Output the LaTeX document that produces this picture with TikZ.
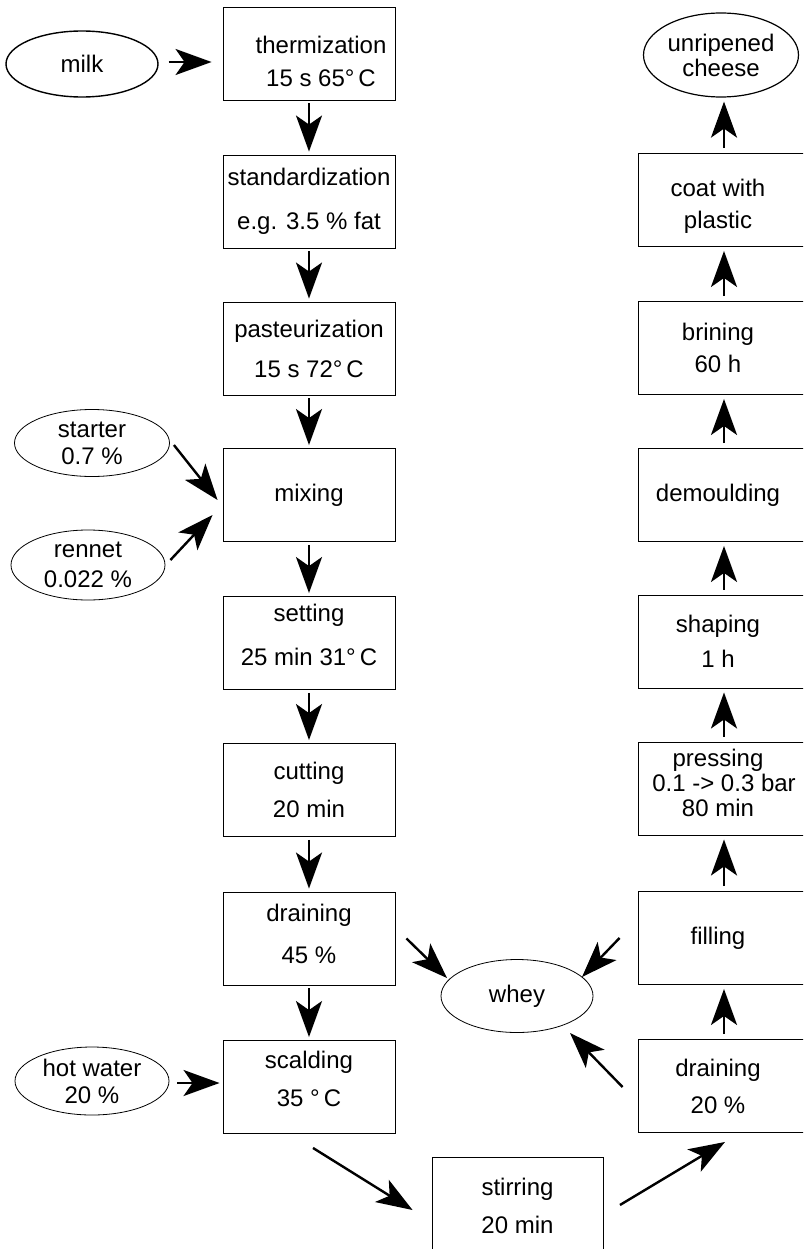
\documentclass[tikz,border=0pt]{standalone}
\usepackage{fontspec}
\setmainfont{Liberation Sans}
\usetikzlibrary{arrows.meta,shapes.geometric}
\newcommand{\padtop}[1]{\rule{0pt}{#1}}
\newcommand{\padbot}[1]{\rule[-#1]{0pt}{#1}}
\begin{document}
\begin{tikzpicture}[x=1pt,y=-1pt,
  every node/.style={font=\fontsize{24}{26}\selectfont, align=center},
  stepbox/.style={draw, line width=0.9pt, rectangle, minimum width=172pt, minimum height=93pt, inner sep=0pt},
  inbox/.style={draw, ellipse, line width=0.8pt, inner sep=0pt},
  arr/.style={line width=2.4pt, -{Stealth[length=36pt,width=26pt,inset=9pt]}},
  vdown/.style={arr, shorten <=3pt, shorten >=3pt},
  vup/.style={arr, shorten <=5pt, shorten >=4pt},
]
\useasboundingbox (0,0) rectangle (803,1249);
\clip (0,0) rectangle (803,1249);

% left column
\node[stepbox] (therm) at (309,53.5) {\hspace*{24pt}\padtop{34pt}thermization\\[7pt]\hspace*{24pt}15 s 65°\,C};
\node[stepbox] (stand) at (309,201.5) {standardization\\[18pt]e.g. 3.5 \% fat};
\node[stepbox] (past) at (309,348.5) {pasteurization\\[14pt]15 s 72°\,C};
\node[stepbox] (mix) at (309,495) {mixing};
\node[stepbox] (set) at (309,643) {setting\\[18pt]25 min 31°\,C\padbot{16pt}};
\node[stepbox] (cut) at (309,790) {cutting\\[12pt]20 min};
\node[stepbox] (drA) at (309,938.5) {draining\\[16pt]45 \%\padbot{10pt}};
\node[stepbox] (scald) at (309,1087) {scalding\\[12pt]35 °\,C\padbot{16pt}};
\node[stepbox, minimum width=171pt, minimum height=98pt] (stir) at (517.5,1206) {stirring\\[12pt]20 min};

% right column
\node[stepbox] (coat) at (724,200) {\padtop{30pt}coat with\hspace*{12pt}\\[6pt]plastic\hspace*{12pt}};
\node[stepbox] (brine) at (724,348) {brining\hspace*{12pt}\\[6pt]60 h\hspace*{12pt}};
\node[stepbox] (demould) at (724,495) {demoulding\hspace*{12pt}};
\node[stepbox] (shape) at (724,641.5) {shaping\hspace*{12pt}\\[9pt]1 h\hspace*{12pt}};
\node[stepbox] (press) at (724,788.5) {pressing\hspace*{12pt}\\[-1pt]0.1 -> 0.3 bar\hspace*{12pt}\\[-1pt]80 min\hspace*{12pt}\padbot{12pt}};
\node[stepbox] (fill) at (724,938) {filling\hspace*{12pt}};
\node[stepbox] (drB) at (724,1086) {draining\hspace*{12pt}\\[11pt]20 \%\hspace*{12pt}};

% ellipses
\node[inbox, line width=1.4pt, minimum width=152pt, minimum height=66pt] (milk) at (82,64) {milk};
\node[inbox, line width=1.2pt, minimum width=155pt, minimum height=84pt] (cheese) at (721,55) {unripened\\[-1pt]cheese};
\node[inbox, minimum width=155pt, minimum height=67pt] (starter) at (92,443) {starter\\[1pt]0.7 \%};
\node[inbox, minimum width=154pt, minimum height=70pt] (rennet) at (88,565) {rennet\\[4pt]0.022 \%};
\node[inbox, minimum width=154pt, minimum height=68pt] (hot) at (92,1081) {hot water\\[1pt]20 \%};
\node[inbox, minimum width=152pt, minimum height=73pt] (whey) at (517,996) {whey};

% connectors
\draw[arr] ([shift={(10,-2)}]milk.east) -- ([shift={(-11,8.5)}]therm.west);
\draw[vdown] (therm) -- (stand);
\draw[vdown] (stand) -- (past);
\draw[vdown] (past) -- (mix);
\draw[vdown] (mix) -- (set);
\draw[vdown] (set) -- (cut);
\draw[vdown] (cut) -- (drA);
\draw[vdown] (drA) -- (scald);
\draw[arr] ([shift={(4,2)}]starter.east) -- ([shift={(-5,5)}]mix.west);
\draw[arr] ([shift={(5,-5)}]rennet.east) -- ([shift={(-10,20)}]mix.west);
\draw[arr] ([shift={(8,2)}]hot.east) -- ([shift={(-3,-4)}]scald.west);
\draw[arr] ([shift={(11,0)}]drA.east) -- ([shift={(-70,-18)}]whey.center);
\draw[arr] ([shift={(-18,0)}]fill.west) -- ([shift={(65,-19)}]whey.center);
\draw[arr] ([shift={(-15,1)}]drB.west) -- ([shift={(53,37)}]whey.center);
\draw[arr] ([shift={(4,14)}]scald.south) -- ([shift={(-19,4)}]stir.west);
\draw[arr] ([shift={(16.5,-1)}]stir.east) -- ([shift={(1,9)}]drB.south);
\draw[vup] (drB) -- (fill);
\draw[vup] (fill) -- (press);
\draw[vup] (press) -- (shape);
\draw[vup] (shape) -- (demould);
\draw[vup] (demould) -- (brine);
\draw[vup] (brine) -- (coat);
\draw[vup] (coat.north) -- (coat.north |- cheese.south);
\end{tikzpicture}
\end{document}
